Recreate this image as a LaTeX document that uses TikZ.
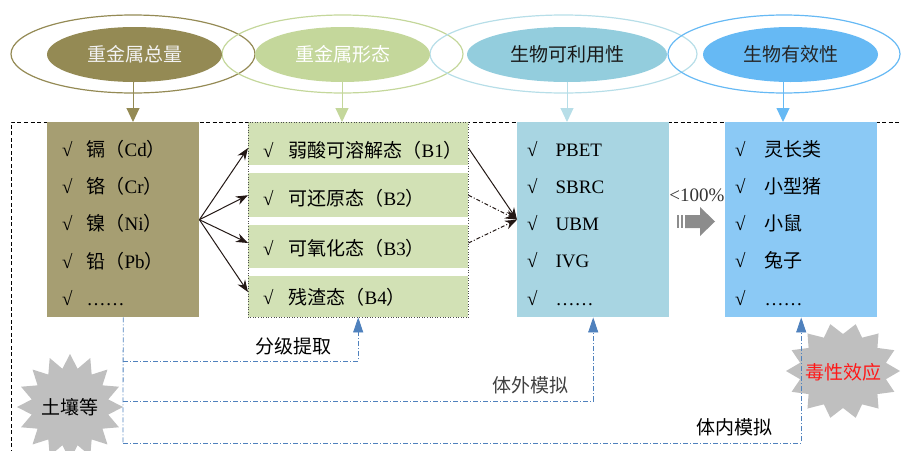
\documentclass[tikz,border=0pt]{standalone}
\usepackage{fontspec}
\setmainfont{Liberation Serif}
\newfontfamily\cjk{Noto Sans CJK SC}
\usetikzlibrary{shapes.geometric,arrows.meta}
\definecolor{cOlive}{HTML}{948A54}
\definecolor{cOliveBox}{HTML}{A69E72}
\definecolor{cGreen}{HTML}{C4D79B}
\definecolor{cGreenBox}{HTML}{D2E1B5}
\definecolor{cCyan}{HTML}{93CDDD}
\definecolor{cCyanLine}{HTML}{B7DEE8}
\definecolor{cCyanBox}{HTML}{A8D5E2}
\definecolor{cBlue}{HTML}{66B9F4}
\definecolor{cBlueBox}{HTML}{8BC9F5}
\definecolor{cLink}{HTML}{4F81BD}
\definecolor{cStar}{HTML}{BFBFBF}
\definecolor{cFat}{HTML}{8C8C8C}
\definecolor{cArrow}{HTML}{231815}
\begin{document}
\begin{tikzpicture}[x=1pt,y=-1pt,
  every node/.style={font=\fontsize{19}{21}\selectfont},
  outerell/.style={ellipse,line width=1.2pt,inner sep=0pt,minimum height=78pt},
  innerell/.style={ellipse,inner sep=0pt,minimum height=55pt},
  colbox/.style={rectangle,inner sep=0pt,anchor=north west,minimum width=152pt,minimum height=195pt},
  rowbar/.style={rectangle,inner sep=0pt,anchor=north west,minimum width=220pt,fill=cGreenBox},
  rowtxt/.style={anchor=west,inner sep=0pt},
  downarrow/.style={line width=1pt,-{Triangle[length=14pt,width=13pt]}},
  blk/.style={line width=1pt,draw=cArrow,-{Stealth[length=12pt,width=9pt]}},
  lnk/.style={draw=cLink,line width=0.8pt,dash pattern=on 5pt off 2pt on 1pt off 2pt},
  lnkarrow/.style={lnk,-{Triangle[length=15pt,width=10pt]}},
  lbl/.style={inner sep=0pt,font=\fontsize{19}{21}\selectfont\cjk}
]
\clip (0,0) rectangle (901,450);
\useasboundingbox (0,0) rectangle (901,450);

% outer ellipses
\node[outerell,draw=cOlive,minimum width=244pt] (o1) at (133,54) {};
\node[outerell,draw=cGreen,minimum width=241pt] (o2) at (342.5,54) {};
\node[outerell,draw=cCyanLine,minimum width=267pt] (o3) at (563.5,54) {};
\node[outerell,draw=cBlue,minimum width=232pt] (o4) at (784,54) {};
% inner ellipses
\node[innerell,fill=cOlive,minimum width=175pt,text=white!95!black] (e1) at (134.5,54.5) {\cjk 重金属总量};
\node[innerell,fill=cGreen,minimum width=175pt,text=white] (e2) at (342.5,54.5) {\cjk 重金属形态};
\node[innerell,fill=cCyan,minimum width=200pt,text=black!90] (e3) at (567,54.5) {\cjk 生物可利用性};
\node[innerell,fill=cBlue,minimum width=175pt,text=black!85] (e4) at (790.5,54.5) {\cjk 生物有效性};

% outer dashed frame
\coordinate (fr0) at (11,460);
\coordinate (fr1) at (11,122);
\coordinate (fr2) at (910,122);
\draw[black,line width=0.9pt,dash pattern=on 4pt off 2.5pt] (fr0) -- (fr1) -- (fr2);

% boxes
\node[colbox,fill=cOliveBox] (b1) at (47,122) {};
\node[colbox,minimum width=220pt] (b2) at (248,122) {};
\node[rowbar,minimum height=43pt] (r1) at (248,122) {};
\node[rowbar,minimum height=44pt] (r2) at (248,173) {};
\node[rowbar,minimum height=43pt] (r3) at (248,225) {};
\node[rowbar,minimum height=41pt] (r4) at (248,276) {};
\draw[black!70,line width=0.6pt,dotted] (b2.north west) rectangle (b2.south east);
\node[colbox,fill=cCyanBox] (b3) at (517,122) {};
\node[colbox,fill=cBlueBox] (b4) at (725,122) {};

% arrows from ellipses
\coordinate (a1) at (133,82);
\coordinate (a2) at (342,82);
\coordinate (a3) at (567,82);
\coordinate (a4) at (783,82);
\draw[downarrow,cOlive] (a1) -- (a1 |- b1.north);
\draw[downarrow,cGreen] (a2) -- (a2 |- b2.north);
\draw[downarrow,cCyanLine] (a3) -- (a3 |- b3.north);
\draw[downarrow,cBlue] (a4) -- (a4 |- b4.north);

% box 1 rows
\node[rowtxt] (t11) at (62,149) {√\hspace{14pt}{\cjk 镉（}Cd{\cjk ）}};
\node[rowtxt] (t12) at (62,186) {√\hspace{14pt}{\cjk 铬（}Cr{\cjk ）}};
\node[rowtxt] (t13) at (62,223) {√\hspace{14pt}{\cjk 镍（}Ni{\cjk ）}};
\node[rowtxt] (t14) at (62,261) {√\hspace{14pt}{\cjk 铅（}Pb{\cjk ）}};
\node[rowtxt] (t15) at (62,298) {√\hspace{14pt}……};

% box 2 rows
\node[rowtxt] (t21) at (263,150) {√\hspace{15pt}{\cjk 弱酸可溶解态（}B1{\cjk ）}};
\node[rowtxt] (t22) at (263,198) {√\hspace{15pt}{\cjk 可还原态（}B2{\cjk ）}};
\node[rowtxt] (t23) at (263,248) {√\hspace{15pt}{\cjk 可氧化态（}B3{\cjk ）}};
\node[rowtxt] (t24) at (263,297) {√\hspace{15pt}{\cjk 残渣态（}B4{\cjk ）}};

% box 3 rows
\node[rowtxt] (t31) at (527,149) {√\hspace{18pt}PBET};
\node[rowtxt] (t32) at (527,186) {√\hspace{18pt}SBRC};
\node[rowtxt] (t33) at (527,223) {√\hspace{18pt}UBM};
\node[rowtxt] (t34) at (527,260) {√\hspace{18pt}IVG};
\node[rowtxt] (t35) at (527,298) {√\hspace{18pt}……};

% box 4 rows
\node[rowtxt] (t41) at (735,149) {√\hspace{19pt}{\cjk 灵长类}};
\node[rowtxt] (t42) at (735,186) {√\hspace{19pt}{\cjk 小型猪}};
\node[rowtxt] (t43) at (735,223) {√\hspace{19pt}{\cjk 小鼠}};
\node[rowtxt] (t44) at (735,260) {√\hspace{19pt}{\cjk 兔子}};
\node[rowtxt] (t45) at (735,298) {√\hspace{19pt}……};

% black arrows
\draw[blk] (b1.east) -- (r1.west |- 0,148);
\draw[blk] (b1.east) -- (r2.west);
\draw[blk] (b1.east) -- (r3.west |- 0,243);
\draw[blk] (b1.east) -- (r4.west |- 0,292);
\draw[blk] (r1.east |- 0,148) -- (b3.west);
\draw[blk,dash pattern=on 4pt off 2pt on 1pt off 2pt] (r2.east) -- (b3.west);
\draw[blk,dash pattern=on 4pt off 2pt on 1pt off 2pt] (r3.east |- 0,243) -- (b3.west);

% fat grey arrow and label
\fill[cFat] (677,215) rectangle (679,228);
\fill[cFat] (681,215) rectangle (683,228);
\fill[cFat] (685,215) -- (700,215) -- (700,207) -- (715,221.5) -- (700,236) -- (700,228) -- (685,228) -- cycle;
\node[inner sep=0pt,text=black!80] (pct) at (697,195) {<100\%};

% starbursts (drawn directly) with their labels
\fill[cStar,shift={(70,407)}] (90:53pt)
  \foreach \i in {1,...,31} { -- ({90+\i*11.25}:{mod(\i,2)==0 ? 53pt : 39pt}) } -- cycle;
\node[inner sep=0pt] (soil) at (70,407) {\cjk 土壤等};
\fill[cStar,shift={(843,371)}] (0:57pt and 48pt)
  \foreach \i in {1,...,27} { -- ({\i*360/28}:{mod(\i,2)==0 ? 57pt : 44pt} and {mod(\i,2)==0 ? 48pt : 37pt}) } -- cycle;
\node[inner sep=0pt,text=red!90!white] (tox) at (843,372) {\cjk 毒性效应};

% blue dash-dot links
\coordinate (l1) at (123,361);
\coordinate (l2) at (123,401);
\coordinate (l3) at (123,443);
\draw[lnk] (b1.south) -- (l3);
\draw[lnkarrow] (l1) -| (b2.south);
\draw[lnkarrow] (l2) -| (b3.south);
\draw[lnkarrow] (l3) -| (b4.south);
\node[lbl] (fj) at (293,346) {分级提取};
\node[lbl,text=black!75] (tw) at (530,385) {体外模拟};
\node[lbl] (tn) at (734,427) {体内模拟};
\end{tikzpicture}
\end{document}
